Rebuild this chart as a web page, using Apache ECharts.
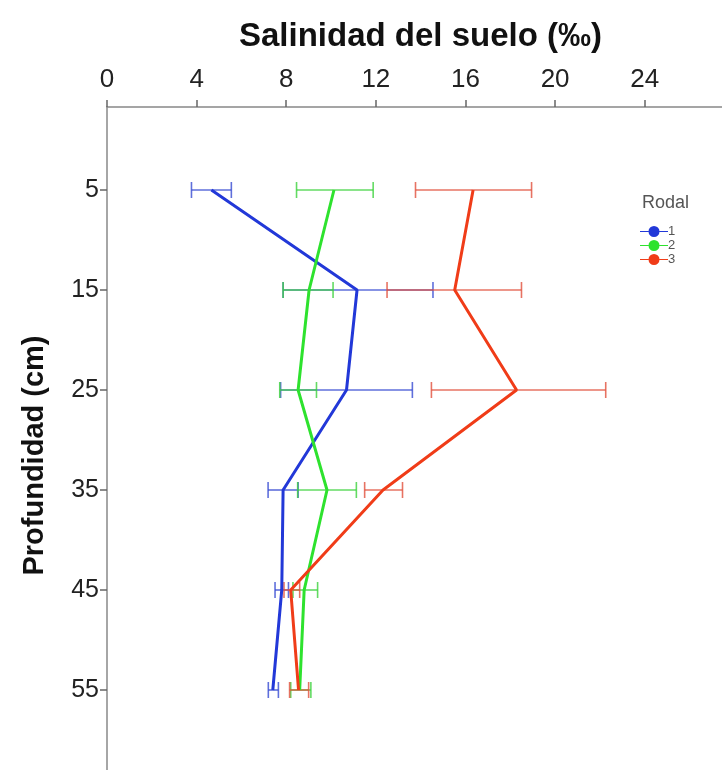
<!DOCTYPE html>
<html>
<head>
<meta charset="utf-8">
<title>Salinidad del suelo</title>
<script src="https://cdn.jsdelivr.net/npm/echarts@6/dist/echarts.min.js"></script>
<style>
  html, body { margin: 0; padding: 0; background: #fff; }
  #chart { width: 722px; height: 770px; }
</style>
</head>
<body>
<div id="chart"></div>
<script>
// profundidades (cm)
const depths = [5, 15, 25, 35, 45, 55]
const xTicks = [0, 4, 8, 12, 16, 20, 24]

// Rodal 1
const r1Mean = [4.66, 11.16, 10.69, 7.86, 7.8, 7.4]
const r1Lo = [3.77, 7.86, 7.75, 7.19, 7.5, 7.2]
const r1Hi = [5.55, 14.55, 13.63, 8.53, 8.1, 7.65]
// Rodal 2
const r2Mean = [10.13, 9.02, 8.53, 9.82, 8.8, 8.6]
const r2Lo = [8.46, 7.86, 7.71, 8.51, 8.3, 8.2]
const r2Hi = [11.88, 10.09, 9.35, 11.13, 9.4, 9.1]
// Rodal 3
const r3Mean = [16.34, 15.52, 18.28, 12.32, 8.2, 8.55]
const r3Lo = [13.77, 12.5, 14.48, 11.5, 7.9, 8.15]
const r3Hi = [18.95, 18.5, 22.26, 13.19, 8.6, 9.0]

const rodales = ['1', '2', '3']
const lineColors = ['#2238d8', '#2ee22e', '#f03c18']
const barColors = ['rgba(55,75,210,0.8)', 'rgba(60,210,60,0.8)', 'rgba(225,80,60,0.8)']

const chart = echarts.init(document.getElementById('chart'))

const FONT = 'Liberation Sans, Arial, sans-serif'
// marcador de leyenda: trazo corto + circulo + trazo corto
const legendIcon = 'path://M0,5h8.5v1h-8.5z M8.5,5.5a5.5,5.5 0 1,0 11,0a5.5,5.5 0 1,0 -11,0z M19.5,5h8.5v1h-8.5z'

function lineSeries(name, mean, i) {
  return {
    name: name,
    type: 'line',
    z: 3,
    data: depths.map((d, k) => [mean[k], d]),
    showSymbol: false,
    symbol: 'none',
    lineStyle: { color: lineColors[i], width: 3 },
    itemStyle: { color: lineColors[i] }
  }
}

function barSeries(lo, hi, i) {
  return {
    name: 'eb' + (i + 1),
    type: 'custom',
    z: 2,
    data: depths.map((d, k) => [lo[k], hi[k], d]),
    encode: { x: [0, 1], y: 2 },
    renderItem(params, api) {
      const a = api.coord([api.value(0), api.value(2)])
      const b = api.coord([api.value(1), api.value(2)])
      const h = 8
      const style = { stroke: barColors[i], lineWidth: 1.6 }
      return {
        type: 'group',
        children: [
          { type: 'line', shape: { x1: a[0], y1: a[1], x2: b[0], y2: b[1] }, style },
          { type: 'line', shape: { x1: a[0], y1: a[1] - h, x2: a[0], y2: a[1] + h }, style },
          { type: 'line', shape: { x1: b[0], y1: b[1] - h, x2: b[0], y2: b[1] + h }, style }
        ]
      }
    }
  }
}

const option = {
  animation: false,
  backgroundColor: '#fff',
  textStyle: { fontFamily: FONT },
  grid: { left: 107, top: 107, right: 0, bottom: 0, containLabel: false },
  title: {
    text: 'Rodal',
    left: 637,
    top: 189,
    textStyle: { fontSize: 18, fontWeight: 'normal', color: '#555', fontFamily: FONT }
  },
  legend: {
    data: rodales,
    orient: 'vertical',
    left: 640,
    top: 225,
    padding: 0,
    itemGap: 1,
    itemWidth: 28,
    itemHeight: 11,
    icon: legendIcon,
    textStyle: { fontSize: 13, color: '#555', fontFamily: FONT, padding: [0, 0, 0, -5] }
  },
  xAxis: {
    type: 'value',
    position: 'top',
    min: 0,
    max: 27.45,
    name: 'Salinidad del suelo (‰)',
    nameLocation: 'middle',
    nameGap: 54,
    nameTextStyle: { fontSize: 33, fontWeight: 'bold', color: '#111', fontFamily: FONT, padding: [0, 0, 0, 12] },
    splitLine: { show: false },
    axisLine: { show: true, onZero: false, lineStyle: { color: '#888', width: 1.5 } },
    axisTick: { show: true, length: 7, customValues: xTicks, lineStyle: { color: '#666', width: 1.5 } },
    axisLabel: { customValues: xTicks, fontSize: 26, color: '#222', margin: 14, fontFamily: FONT }
  },
  yAxis: {
    type: 'value',
    inverse: true,
    min: -3.3,
    max: 63.0,
    name: 'Profundidad (cm)',
    nameLocation: 'middle',
    nameGap: 58,
    nameRotate: 90,
    nameTextStyle: { fontSize: 29, fontWeight: 'bold', color: '#111', fontFamily: FONT, padding: [0, 34, 0, 0] },
    splitLine: { show: false },
    axisLine: { show: true, onZero: false, lineStyle: { color: '#888', width: 1.5 } },
    axisTick: { show: true, length: 7, customValues: depths, lineStyle: { color: '#666', width: 1.5 } },
    axisLabel: { customValues: depths, fontSize: 25, color: '#222', margin: 8, fontFamily: FONT }
  },
  series: [
    barSeries(r1Lo, r1Hi, 0),
    barSeries(r2Lo, r2Hi, 1),
    barSeries(r3Lo, r3Hi, 2),
    lineSeries('1', r1Mean, 0),
    lineSeries('2', r2Mean, 1),
    lineSeries('3', r3Mean, 2)
  ]
}

chart.setOption(option)
</script>
</body>
</html>
